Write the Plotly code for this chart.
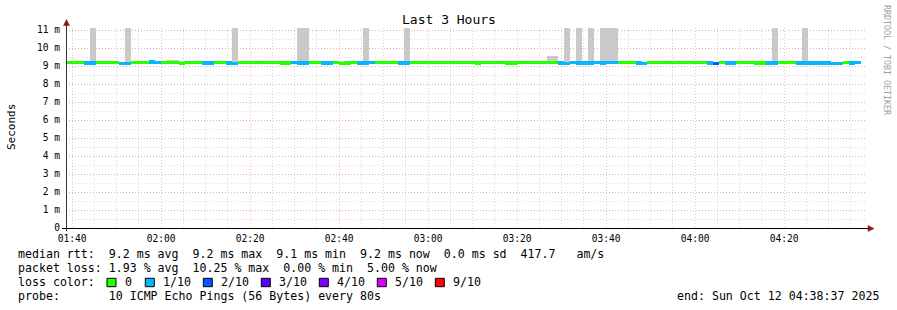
import pandas as pd
import plotly.graph_objects as go

# ---------------- data ----------------
start_time = "2025-10-12 01:38:37"
end_time = "2025-10-12 04:38:37"
step_seconds = 80

# median rtt per 80 s step (ms)
median_ms = [
    9.20, 9.20, 9.19, 9.16, 9.16, 9.20, 9.20, 9.20, 9.20, 9.15,
    9.15, 9.19, 9.18, 9.20, 9.22, 9.21, 9.19, 9.20, 9.19, 9.13,
    9.18, 9.20, 9.20, 9.16, 9.16, 9.21, 9.19, 9.16, 9.15, 9.20,
    9.20, 9.20, 9.19, 9.19, 9.20, 9.19, 9.17, 9.16, 9.18, 9.17,
    9.17, 9.19, 9.20, 9.16, 9.16, 9.18, 9.15, 9.16, 9.19, 9.17,
    9.17, 9.19, 9.20, 9.21, 9.19, 9.19, 9.16, 9.17, 9.20, 9.19,
    9.18, 9.19, 9.20, 9.19, 9.18, 9.19, 9.19, 9.20, 9.18, 9.17,
    9.19, 9.19, 9.20, 9.18, 9.16, 9.17, 9.20, 9.20, 9.21, 9.21,
    9.20, 9.21, 9.20, 9.16, 9.15, 9.18, 9.17, 9.16, 9.17, 9.18,
    9.17, 9.18, 9.18, 9.21, 9.20, 9.19, 9.16, 9.15, 9.19, 9.20,
    9.20, 9.19, 9.20, 9.21, 9.21, 9.20, 9.20, 9.21, 9.17, 9.15,
    9.19, 9.17, 9.17, 9.19, 9.20, 9.20, 9.17, 9.17, 9.16, 9.16,
    9.20, 9.20, 9.19, 9.17, 9.17, 9.17, 9.16, 9.16, 9.17, 9.15,
    9.15, 9.18, 9.17, 9.18,
]

# lost pings (of 10) per step
loss_count = [
    0, 0, 0, 1, 1, 0, 0, 0, 0, 1,
    1, 0, 0, 0, 1, 1, 0, 0, 0, 0,
    0, 0, 0, 1, 1, 0, 0, 1, 1, 0,
    0, 0, 0, 0, 0, 0, 0, 0, 1, 1,
    1, 0, 0, 1, 1, 0, 0, 0, 0, 1,
    1, 1, 0, 0, 0, 0, 1, 1, 0, 0,
    0, 0, 0, 0, 0, 0, 0, 0, 0, 0,
    0, 0, 0, 0, 0, 0, 0, 0, 0, 0,
    0, 0, 0, 1, 1, 1, 1, 1, 1, 1,
    1, 1, 1, 0, 0, 0, 1, 1, 0, 0,
    0, 0, 0, 0, 0, 0, 0, 0, 1, 2,
    0, 1, 1, 0, 0, 0, 0, 0, 1, 1,
    0, 0, 0, 1, 1, 1, 1, 1, 1, 1,
    1, 0, 1, 1,
]

# smoke (ping spread) upper / lower bound per step (ms)
smoke_hi = [
    9.25, 9.25, 9.25, 9.24, 13.0, 9.25, 9.25, 9.25, 9.25, 9.24,
    13.0, 9.25, 9.24, 9.26, 9.28, 9.27, 9.28, 9.31, 9.32, 9.27,
    9.30, 9.30, 9.26, 9.25, 9.26, 9.30, 9.26, 9.25, 13.0, 9.25,
    9.25, 9.25, 9.24, 9.25, 9.26, 9.28, 9.25, 9.25, 9.29, 13.0,
    13.0, 9.25, 9.26, 9.24, 9.26, 9.29, 9.26, 9.29, 9.26, 9.26,
    13.0, 9.25, 9.25, 9.26, 9.25, 9.29, 9.27, 13.0, 9.25, 9.25,
    9.24, 9.25, 9.25, 9.25, 9.24, 9.25, 9.25, 9.24, 9.25, 9.24,
    9.25, 9.24, 9.25, 9.25, 9.27, 9.27, 9.25, 9.28, 9.30, 9.30,
    9.27, 9.56, 9.56, 9.26, 13.0, 9.30, 13.0, 9.30, 13.0, 9.30,
    13.0, 13.0, 13.0, 9.27, 9.27, 9.26, 9.27, 9.25, 9.29, 9.25,
    9.25, 9.25, 9.27, 9.27, 9.26, 9.25, 9.25, 9.28, 9.28, 9.25,
    9.28, 9.28, 9.29, 9.28, 9.25, 9.25, 9.27, 9.25, 9.26, 13.0,
    9.25, 9.25, 9.25, 9.26, 13.0, 9.25, 9.25, 9.25, 9.25, 9.25,
    9.25, 9.25, 9.27, 9.27,
]
smoke_lo = [
    9.14, 9.14, 9.13, 9.11, 9.11, 9.14, 9.14, 9.13, 9.14, 9.10,
    9.10, 9.12, 9.10, 9.14, 9.15, 9.15, 9.13, 9.12, 9.11, 9.08,
    9.12, 9.14, 9.14, 9.11, 9.10, 9.14, 9.12, 9.10, 9.10, 9.14,
    9.14, 9.14, 9.13, 9.13, 9.13, 9.12, 9.10, 9.10, 9.11, 9.11,
    9.11, 9.13, 9.14, 9.10, 9.10, 9.11, 9.08, 9.09, 9.13, 9.11,
    9.11, 9.13, 9.14, 9.14, 9.13, 9.12, 9.10, 9.11, 9.14, 9.13,
    9.12, 9.13, 9.14, 9.13, 9.12, 9.13, 9.13, 9.14, 9.12, 9.10,
    9.13, 9.13, 9.14, 9.12, 9.10, 9.10, 9.14, 9.14, 9.14, 9.14,
    9.14, 9.14, 9.14, 9.10, 9.09, 9.12, 9.11, 9.10, 9.11, 9.12,
    9.11, 9.12, 9.12, 9.15, 9.14, 9.13, 9.10, 9.09, 9.12, 9.14,
    9.14, 9.13, 9.14, 9.15, 9.15, 9.14, 9.14, 9.15, 9.10, 9.08,
    9.13, 9.11, 9.11, 9.13, 9.14, 9.14, 9.11, 9.11, 9.10, 9.10,
    9.14, 9.14, 9.13, 9.11, 9.11, 9.11, 9.10, 9.10, 9.11, 9.09,
    9.09, 9.12, 9.11, 9.12,
]

loss_labels = ["0", "1/10", "2/10", "3/10", "4/10", "5/10", "9/10"]
loss_colors = ["#26ff00", "#00b8ff", "#0059ff", "#5e00ff", "#7e00ff", "#dd00ff", "#ff0000"]
loss_steps = [0, 1, 2, 3, 4, 5, 9]

y_tick_vals = [0, 1, 2, 3, 4, 5, 6, 7, 8, 9, 10, 11]
y_tick_text = ["0", "1 m", "2 m", "3 m", "4 m", "5 m", "6 m", "7 m", "8 m", "9 m", "10 m", "11 m"]

title_text = "Last 3 Hours"
y_title = "Seconds"
stat_lines = [
    "median rtt:  9.2 ms avg  9.2 ms max  9.1 ms min  9.2 ms now  0.0 ms sd  417.7   am/s",
    "packet loss: 1.93 % avg  10.25 % max  0.00 % min  5.00 % now",
]
loss_color_label = "loss color:"
probe_line = "probe:       10 ICMP Echo Pings (56 Bytes) every 80s"
end_line = "end: Sun Oct 12 04:38:37 2025"
side_text = "RRDTOOL / TOBI OETIKER"

# ---------------- figure ----------------
W, H = 897, 310
L, T = 66, 28
PW, PH = 801, 200
FONT = "DejaVu Sans Mono"
MAJOR_GRID = "rgba(235,140,140,0.55)"
MINOR_GRID = "rgba(190,190,190,0.6)"

t0 = pd.Timestamp(start_time)
n = len(median_ms)
times = [t0 + pd.Timedelta(seconds=step_seconds * (i + 0.5)) for i in range(n)]
width_ms = step_seconds * 1000

color_of = {s: c for s, c in zip(loss_steps, loss_colors)}
band_colors = [color_of.get(c, "#ff0000") for c in loss_count]

band = 0.19
fig = go.Figure()
fig.add_trace(go.Bar(
    x=times, base=smoke_lo, y=[h - l for h, l in zip(smoke_hi, smoke_lo)],
    width=width_ms, marker=dict(color="#c9c9c9", line=dict(width=0)),
    showlegend=False, hoverinfo="skip"))
fig.add_trace(go.Bar(
    x=times, base=[m - band / 2 for m in median_ms], y=[band] * n,
    width=width_ms, marker=dict(color=band_colors, line=dict(width=0)),
    showlegend=False, hoverinfo="skip"))


def px(x, y):
    return (x - L) / PW, (T + PH - y) / PH


def nb(s):
    return s.replace(" ", "\u00a0")


ann = []
shapes = []

# title
tx, ty = px(448.5, 19)
ann.append(dict(text=nb(title_text), x=tx, y=ty, xref="paper", yref="paper",
                xanchor="center", yanchor="middle", showarrow=False,
                font=dict(family=FONT, size=13, color="#000")))
# y title
tx, ty = px(11, 127)
ann.append(dict(text=y_title, x=tx, y=ty, xref="paper", yref="paper",
                xanchor="center", yanchor="middle", showarrow=False, textangle=-90,
                font=dict(family=FONT, size=11, color="#000")))
# side text
tx, ty = px(887, 60)
ann.append(dict(text=nb(side_text), x=tx, y=ty, xref="paper", yref="paper",
                xanchor="center", yanchor="middle", showarrow=False, textangle=90,
                font=dict(family=FONT, size=8.3, color="#a0a0a0")))

# stats lines
for k, line in enumerate(stat_lines):
    tx, ty = px(16, 254.3 + 13.8 * k)
    ann.append(dict(text=nb(line), x=tx, y=ty, xref="paper", yref="paper",
                    xanchor="left", yanchor="middle", showarrow=False,
                    font=dict(family=FONT, size=11.6, color="#000")))
tx, ty = px(16, 282)
ann.append(dict(text=nb(loss_color_label), x=tx, y=ty, xref="paper", yref="paper",
                xanchor="left", yanchor="middle", showarrow=False,
                font=dict(family=FONT, size=11.6, color="#000")))
box_left = [107, 145.3, 203.3, 261.3, 319.3, 377.3, 435.3]
for bl, lab, col in zip(box_left, loss_labels, loss_colors):
    x0, y0 = px(bl, 286.7)
    x1, y1 = px(bl + 9, 278.3)
    shapes.append(dict(type="rect", xref="paper", yref="paper", x0=x0, y0=y0, x1=x1, y1=y1,
                       fillcolor=col, line=dict(color="#000", width=1)))
    tx, ty = px(bl + 15.5, 282)
    ann.append(dict(text=lab, x=tx, y=ty, xref="paper", yref="paper",
                    xanchor="left", yanchor="middle", showarrow=False,
                    font=dict(family=FONT, size=11.6, color="#000")))
tx, ty = px(16, 296.3)
ann.append(dict(text=nb(probe_line), x=tx, y=ty, xref="paper", yref="paper",
                xanchor="left", yanchor="middle", showarrow=False,
                font=dict(family=FONT, size=11.6, color="#000")))
tx, ty = px(881, 296.3)
ann.append(dict(text=nb(end_line), x=tx, y=ty, xref="paper", yref="paper",
                xanchor="right", yanchor="middle", showarrow=False,
                font=dict(family=FONT, size=11.6, color="#000")))

# axis lines and arrows
x0, y0 = px(66.5, 231)
x1, y1 = px(66.5, 24)
shapes.append(dict(type="line", xref="paper", yref="paper", x0=x0, y0=y0, x1=x1, y1=y1,
                   line=dict(color="#333", width=1)))
x0, y0 = px(62, 228.5)
x1, y1 = px(869, 228.5)
shapes.append(dict(type="line", xref="paper", yref="paper", x0=x0, y0=y0, x1=x1, y1=y1,
                   line=dict(color="#000", width=1)))


def tri(pts):
    return "M " + " L ".join(f"{px(a, b)[0]:.5f},{px(a, b)[1]:.5f}" for a, b in pts) + " Z"


shapes.append(dict(type="path", xref="paper", yref="paper",
                   path=tri([(63.5, 25.5), (69.5, 25.5), (66.5, 19.5)]),
                   fillcolor="#8b1a1a", line=dict(color="#8b1a1a", width=0.5)))
shapes.append(dict(type="path", xref="paper", yref="paper",
                   path=tri([(868, 225.5), (868, 231.5), (874, 228.5)]),
                   fillcolor="#8b1a1a", line=dict(color="#8b1a1a", width=0.5)))

fig.update_layout(
    width=W, height=H,
    margin=dict(l=L, r=W - L - PW, t=T, b=H - T - PH, autoexpand=False),
    paper_bgcolor="#ffffff", plot_bgcolor="#ffffff",
    barmode="overlay", bargap=0,
    showlegend=False,
    annotations=ann, shapes=shapes,
    xaxis=dict(
        type="date", range=[start_time, end_time],
        tick0="2025-10-12 01:40:00", dtick=20 * 60 * 1000, tickformat="%H:%M",
        showgrid=True, gridcolor=MAJOR_GRID, griddash="1px,2px", gridwidth=1,
        minor=dict(dtick=5 * 60 * 1000, showgrid=True, gridcolor=MINOR_GRID,
                   griddash="1px,2px", gridwidth=1),
        showline=False, zeroline=False, ticks="outside", ticklen=1, tickcolor="rgba(0,0,0,0)",
        tickfont=dict(family=FONT, size=9.6, color="#000"),
    ),
    yaxis=dict(
        range=[0, PH / 18.0], tickvals=y_tick_vals, ticktext=y_tick_text,
        showgrid=True, gridcolor=MAJOR_GRID, griddash="1px,2px", gridwidth=1,
        minor=dict(dtick=0.5, showgrid=True, gridcolor=MINOR_GRID, griddash="1px,2px", gridwidth=1),
        showline=False, zeroline=False, ticks="outside", ticklen=3, tickcolor="rgba(0,0,0,0)",
        tickfont=dict(family=FONT, size=9.6, color="#000"),
    ),
)

fig.write_html("out.html")
